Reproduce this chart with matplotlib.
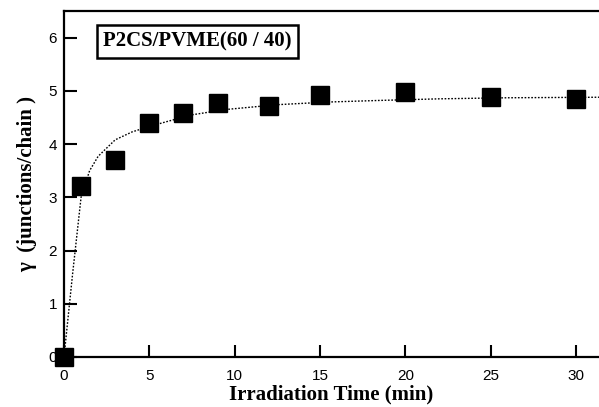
import matplotlib
matplotlib.use("Agg")
import matplotlib.pyplot as plt

# Measured data points
time_min = [0, 1, 3, 5, 7, 9, 12, 15, 20, 25, 30]
gamma = [0.0, 3.21, 3.70, 4.40, 4.59, 4.78, 4.72, 4.92, 4.98, 4.88, 4.85]

# Fit curve
fit_time = [0, 0.5, 1.0, 1.5, 2.0, 3.0, 4.0, 5.0, 6.0, 7.5, 9.5, 12.5, 15.5, 18.5, 22, 26, 31.4]
fit_gamma = [0.0, 1.55, 3.0, 3.50, 3.77, 4.08, 4.23, 4.33, 4.42, 4.55, 4.65, 4.74, 4.79, 4.82, 4.85, 4.87, 4.88]

xticks = [0, 5, 10, 15, 20, 25, 30]
yticks = [0, 1, 2, 3, 4, 5, 6]

fig = plt.figure(figsize=(5.99, 4.07), dpi=100)
ax = fig.add_axes([64/599, 50/407, 1 - 64/599, (357-11)/407])

ax.plot(fit_time, fit_gamma, linestyle=(0, (1.2, 1.2)), color='black', linewidth=1.0, zorder=2)
ax.plot(time_min, gamma, linestyle='none', marker='s', markersize=13, color='black', clip_on=False, zorder=3)

ax.set_xlim(0, 31.35)
ax.set_ylim(0, 6.5)
ax.set_xticks(xticks)
ax.set_yticks(yticks)

for s in ['left', 'bottom', 'top']:
    ax.spines[s].set_linewidth(1.6)
ax.spines['right'].set_visible(False)

ax.tick_params(direction='in', length=9, width=1.5, labelsize=11)
ax.tick_params(axis='x', pad=9)
ax.tick_params(axis='y', pad=5)
for lab in ax.get_xticklabels() + ax.get_yticklabels():
    lab.set_family('Liberation Sans')

ax.set_xlabel('Irradiation Time (min)', family='Liberation Serif', fontweight='bold', fontsize=15, labelpad=1)
ax.set_ylabel('γ  (junctions/chain )', family='Liberation Serif', fontweight='bold', fontsize=15, labelpad=8)

ax.text(0.2498, 0.912, 'P2CS/PVME(60 / 40)', transform=ax.transAxes,
        family='Liberation Serif', fontweight='bold', fontsize=15, va='center', ha='center',
        bbox=dict(boxstyle='square,pad=0.3', facecolor='white', edgecolor='black', linewidth=1.8))

fig.savefig('out.png', dpi=100)
